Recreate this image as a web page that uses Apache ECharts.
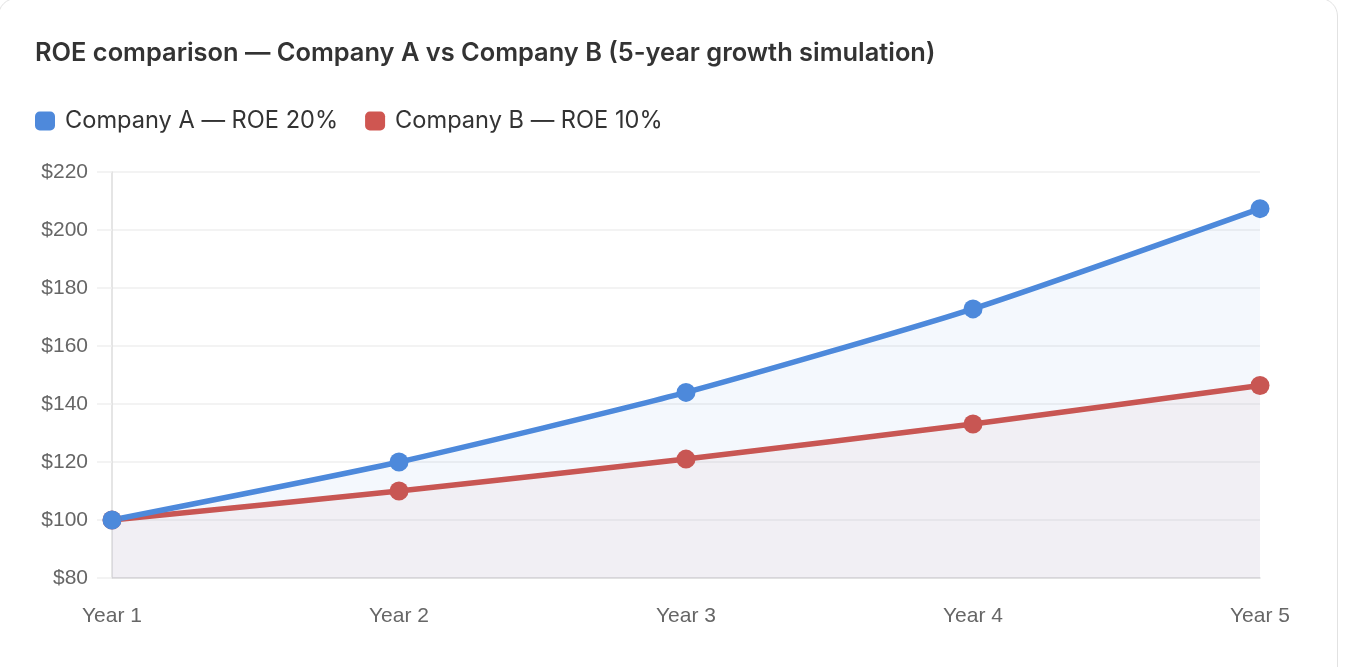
<!DOCTYPE html>
<html>
<head>
<meta charset="utf-8">
<title>ROE comparison</title>
<script src="https://cdn.jsdelivr.net/npm/echarts@6/dist/echarts.min.js"></script>
<style>
  html, body { margin: 0; padding: 0; background: #fff; overflow: hidden; }
  #card {
    position: absolute; left: -2px; top: -2px; width: 1338px; height: 700px;
    border: 1px solid #e2e2e2; border-radius: 18px; background: #fff;
  }
  #main { position: absolute; left: 0; top: 0; width: 1352px; height: 667px; }
</style>
</head>
<body>
<div id="card"></div>
<div id="main"></div>
<script>
// data
var years = ['Year 1', 'Year 2', 'Year 3', 'Year 4', 'Year 5'];
var companyA = [100, 120, 144, 172.8, 207.36];   // ROE 20%
var companyB = [100, 110, 121, 133.1, 146.41];   // ROE 10%
var nameA = 'Company A — ROE 20%';
var nameB = 'Company B — ROE 10%';

var blue = '#4d89db';
var red = '#c85653';

var chart = echarts.init(document.getElementById('main'));

var option = {
  backgroundColor: 'transparent',
  animation: false,
  title: {
    text: 'ROE comparison — Company A vs Company B (5-year growth simulation)',
    left: 35,
    top: 41,
    padding: 0,
    textStyle: {
      fontFamily: 'Inter',
      fontSize: 25.4,
      fontWeight: 600,
      color: '#333'
    }
  },
  legend: {
    data: [
      { name: nameA, itemStyle: { color: '#4e89db' } },
      { name: nameB, itemStyle: { color: '#cf5651' } }
    ],
    left: 35,
    top: 109,
    padding: 0,
    icon: 'roundRect',
    itemWidth: 20,
    itemHeight: 19,
    itemGap: 27,
    textStyle: {
      fontFamily: 'Inter',
      fontSize: 23.6,
      color: '#333',
      padding: [0, 0, 0, 5]
    }
  },
  grid: {
    left: 112,
    right: 92,
    top: 172,
    bottom: 89,
    containLabel: false
  },
  xAxis: {
    type: 'category',
    data: years,
    boundaryGap: false,
    axisLine: { lineStyle: { color: '#dcdcdc', width: 1.5 } },
    axisTick: { show: false },
    axisLabel: {
      margin: 28,
      fontFamily: 'Liberation Sans',
      fontSize: 21,
      color: '#666'
    },
    splitLine: { show: false }
  },
  yAxis: {
    type: 'value',
    min: 80,
    max: 220,
    interval: 20,
    axisLine: { show: true, lineStyle: { color: '#dcdcdc', width: 1.5 } },
    axisTick: { show: true, length: 15, lineStyle: { color: '#f0f0f0', width: 1.5 } },
    axisLabel: {
      margin: 24,
      fontFamily: 'Liberation Sans',
      fontSize: 21,
      color: '#666',
      formatter: function (v) { return '$' + v; }
    },
    splitLine: { lineStyle: { color: '#efefef', width: 1.5 } }
  },
  series: [
    {
      name: nameB,
      type: 'line',
      data: companyB,
      smooth: 0.2,
      symbol: 'circle',
      symbolSize: 19,
      lineStyle: { color: red, width: 5.5 },
      itemStyle: { color: red },
      areaStyle: { color: 'rgba(200, 86, 83, 0.07)', origin: 'start' }
    },
    {
      name: nameA,
      type: 'line',
      data: companyA,
      smooth: 0.2,
      symbol: 'circle',
      symbolSize: 19,
      lineStyle: { color: blue, width: 5.5 },
      itemStyle: { color: blue },
      areaStyle: { color: 'rgba(77, 137, 219, 0.09)', origin: 'start' }
    }
  ]
};

chart.setOption(option);
</script>
</body>
</html>
